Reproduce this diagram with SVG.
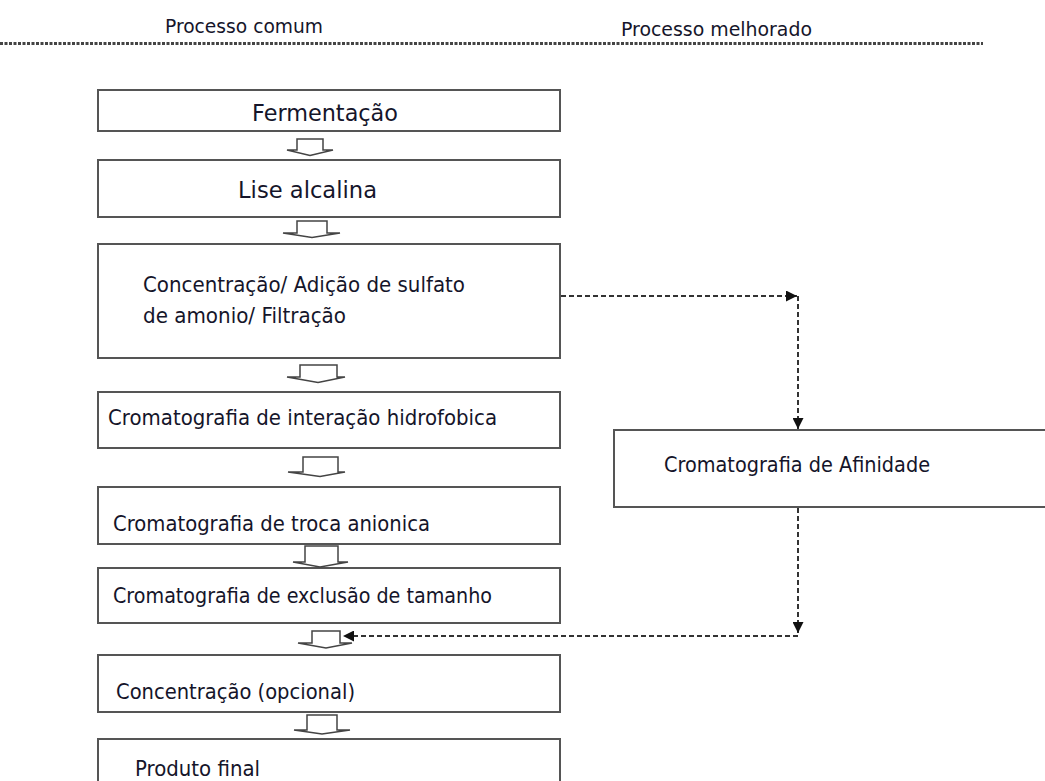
<svg xmlns="http://www.w3.org/2000/svg" width="1045" height="781" viewBox="0 0 1045 781">
<defs>
<style>
.box{fill:#fff;stroke:#555;stroke-width:2}
.t{font-family:"DejaVu Sans","Liberation Sans",sans-serif;font-size:21px;fill:#15152a}
.big{font-size:23px}
.h{font-size:20px}
.blk{fill:#fff;stroke:#444;stroke-width:1.5;stroke-linejoin:miter}
.dash{fill:none;stroke:#333;stroke-width:2;stroke-dasharray:5 3}
.hdr{fill:none;stroke:#444;stroke-width:3;stroke-dasharray:3 1.5}
</style>
<marker id="ah" viewBox="0 0 10 10" refX="10" refY="5" markerWidth="11" markerHeight="11" markerUnits="userSpaceOnUse" orient="auto">
<path d="M0,0 L10,5 L0,10 Z" fill="#111"/>
</marker>
</defs>
<rect width="1045" height="781" fill="#fff"/>
<g id="header">
<text class="t h" x="165" y="33" textLength="158" lengthAdjust="spacingAndGlyphs">Processo comum</text>
<text class="t h" x="621" y="36" textLength="191" lengthAdjust="spacingAndGlyphs">Processo melhorado</text>
<line class="hdr" x1="0" y1="43.5" x2="983" y2="43.5"/>
</g>
<g id="n1"><rect class="box" x="98" y="90" width="462" height="41"/>
<text class="t big" x="252" y="121" textLength="146" lengthAdjust="spacingAndGlyphs">Fermentação</text></g>
<g id="n2"><rect class="box" x="98" y="160" width="462" height="57"/>
<text class="t big" x="238" y="198" textLength="139" lengthAdjust="spacingAndGlyphs">Lise alcalina</text></g>
<g id="n3"><rect class="box" x="98" y="244" width="462" height="114"/>
<text class="t" x="143" y="292" textLength="322" lengthAdjust="spacingAndGlyphs">Concentração/ Adição de sulfato</text>
<text class="t" x="143" y="323" textLength="203" lengthAdjust="spacingAndGlyphs">de amonio/ Filtração</text></g>
<g id="n4"><rect class="box" x="98" y="392" width="462" height="56"/>
<text class="t" x="108" y="425" textLength="389" lengthAdjust="spacingAndGlyphs">Cromatografia de interação hidrofobica</text></g>
<g id="n5"><rect class="box" x="98" y="487" width="462" height="57"/>
<text class="t" x="113" y="531" textLength="317" lengthAdjust="spacingAndGlyphs">Cromatografia de troca anionica</text></g>
<g id="n6"><rect class="box" x="98" y="568" width="462" height="55"/>
<text class="t" x="113" y="603" textLength="379" lengthAdjust="spacingAndGlyphs">Cromatografia de exclusão de tamanho</text></g>
<g id="n7"><rect class="box" x="98" y="655" width="462" height="57"/>
<text class="t" x="116" y="699" textLength="239" lengthAdjust="spacingAndGlyphs">Concentração (opcional)</text></g>
<g id="n8"><rect class="box" x="98" y="739" width="462" height="60"/>
<text class="t" x="135" y="776" textLength="125" lengthAdjust="spacingAndGlyphs">Produto final</text></g>
<g id="n9"><rect class="box" x="614" y="430" width="460" height="77"/>
<text class="t" x="664" y="472" textLength="266" lengthAdjust="spacingAndGlyphs">Cromatografia de Afinidade</text></g>
<g id="connectors">
<path class="blk" d="M297,139 H323 V150 H333 L310,155.5 L287,150 H297 Z"/>
<path class="blk" d="M297,221 H327 V233 H340 L312,237.5 L283,233 H297 Z"/>
<path class="blk" d="M300,365 H337 V377 H345 L318,382.5 L287,377 H300 Z"/>
<path class="blk" d="M303,457 H338 V472 H345 L320,476.5 L288,472 H303 Z"/>
<path class="blk" d="M305,546 H338 V562 H348 L320,567 L293,562 H305 Z"/>
<path class="blk" d="M312,631 H340 V643 H352 L326,648 L298,643 H312 Z"/>
<path class="blk" d="M307,715 H337 V730 H350 L322,734 L294,730 H307 Z"/>
<path class="dash" d="M561,296 H797" marker-end="url(#ah)"/>
<path class="dash" d="M798,296 V429" marker-end="url(#ah)"/>
<path class="dash" d="M798,508 V633" marker-end="url(#ah)"/>
<path class="dash" d="M798,636 H343" marker-end="url(#ah)"/>
</g>
</svg>
